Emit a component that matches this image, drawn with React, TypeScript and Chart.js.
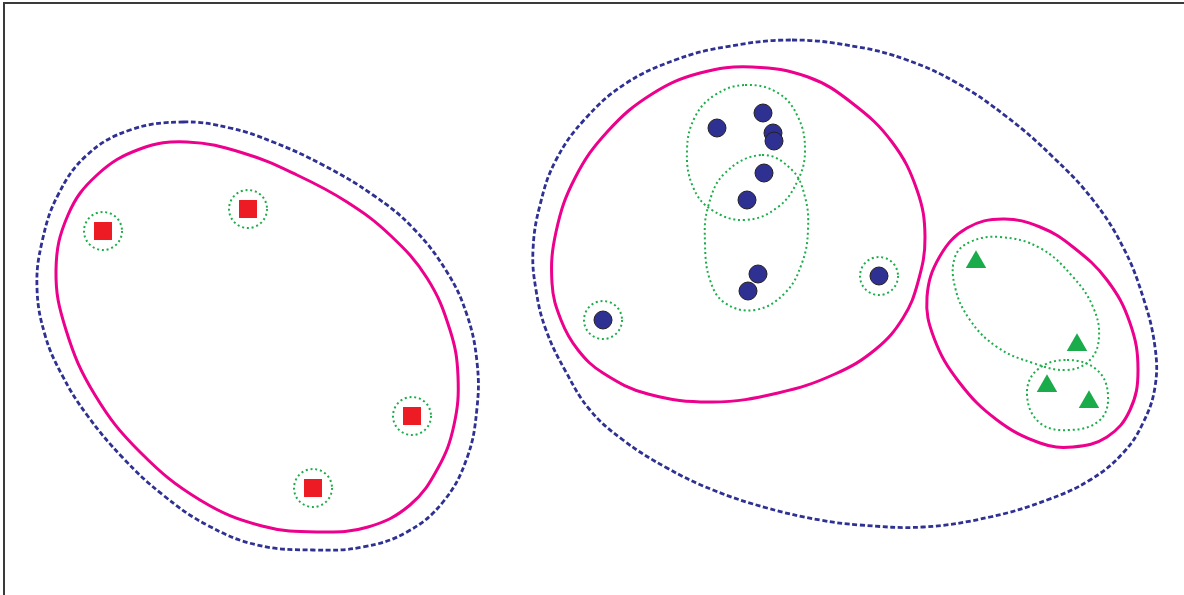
import React, { useEffect, useRef } from 'react'
import { Chart, registerables, type ChartConfiguration } from 'chart.js'

Chart.register(...registerables)

type P = { x: number; y: number }
const pts = (a: number[][]): P[] => a.map(([x, y]) => ({ x, y }))

// members of each cluster (x across, y down)
const redSquares = pts([[103, 231], [248, 209], [412, 416], [313, 488]])
const blueDots = pts([
  [717, 128], [763, 113], [773, 133], [774, 141], [764, 173],
  [747, 200], [758, 274], [748, 291], [879, 276], [603, 320],
])
const greenTriangles = pts([[976, 262], [1077, 345], [1047, 386], [1089, 402]])

// singletons that get their own dotted ring
const singletons = pts([[103, 231], [248, 209], [412, 416], [313, 488], [603, 320], [879, 276]])

// outer dashed hulls (closed, first point not repeated)
const leftHull = pts([
  [183, 122], [230, 128], [273, 142], [323, 165], [373, 195], [413, 228], [447, 272],
  [467, 315], [477, 362], [477, 408], [467, 458], [443, 502], [407, 532], [363, 547],
  [313, 550], [257, 545], [207, 525], [163, 495], [123, 458], [87, 415], [62, 375],
  [45, 335], [37, 288], [42, 242], [58, 195], [87, 155], [130, 130],
])
const rightHull = pts([
  [792, 40], [858, 47], [907, 60], [957, 83], [1007, 117], [1053, 157], [1093, 200],
  [1123, 247], [1143, 297], [1155, 347], [1155, 387], [1143, 423], [1123, 453],
  [1090, 480], [1047, 500], [990, 517], [923, 527], [860, 525], [820, 520], [767, 508],
  [713, 490], [667, 468], [623, 440], [590, 410], [566, 372], [546, 330], [536, 290],
  [533, 250], [540, 205], [556, 160], [585, 119], [625, 84], [675, 60], [725, 47],
])

// solid cluster outlines
const leftCluster = pts([
  [187, 142], [243, 153], [297, 175], [347, 202], [390, 235], [427, 278], [450, 330],
  [458, 376], [454, 425], [438, 468], [410, 505], [368, 527], [320, 532], [262, 526],
  [200, 500], [140, 452], [95, 395], [66, 330], [56, 270], [68, 215], [97, 175],
  [140, 149],
])
const midCluster = pts([
  [752, 67], [808, 77], [852, 103], [892, 142], [917, 190], [925, 237], [918, 282],
  [903, 318], [876, 349], [835, 374], [778, 393], [712, 402], [648, 394], [603, 373],
  [578, 350], [561, 320], [552, 283], [556, 232], [575, 178], [608, 131], [652, 94],
  [700, 73],
])
const rightCluster = pts([
  [1003, 219], [1040, 227], [1073, 247], [1107, 280], [1130, 323], [1138, 370],
  [1130, 410], [1107, 437], [1073, 447], [1040, 443], [997, 420], [959, 382],
  [934, 338], [927, 297], [940, 256], [967, 228],
])

// dotted sub-groups
const subUpper = pts([
  [745, 85], [778, 93], [798, 117], [805, 150], [798, 180], [778, 207], [745, 220],
  [712, 210], [693, 187], [687, 150], [695, 117], [715, 95],
])
const subLower = pts([
  [762, 155], [792, 170], [805, 197], [808, 230], [802, 263], [785, 293], [755, 310],
  [725, 303], [710, 280], [705, 243], [708, 207], [725, 173],
])
const subTilted = pts([
  [1000, 237], [1040, 248], [1073, 277], [1093, 307], [1099, 337], [1090, 360],
  [1067, 370], [1033, 363], [997, 347], [970, 320], [955, 287], [955, 257], [970, 242],
])
const subSmall = pts([
  [1067, 360], [1097, 370], [1108, 395], [1100, 420], [1070, 430], [1040, 423],
  [1027, 395], [1037, 370],
])

const NAVY = '#2e3192'
const MAGENTA = '#ec008c'
const GREEN = '#1dad4a'

// point rings need a dash too, points don't support one natively
const ringDash = {
  id: 'ringDash',
  beforeDatasetDraw(chart: Chart, args: { index: number }) {
    if ((chart.data.datasets[args.index] as any).ring) {
      chart.ctx.save()
      chart.ctx.setLineDash([2, 2.8])
    }
  },
  afterDatasetDraw(chart: Chart, args: { index: number }) {
    if ((chart.data.datasets[args.index] as any).ring) chart.ctx.restore()
  },
}

// close outline paths like the radar controller does, so the spline wraps smoothly
const closeLoops = {
  id: 'closeLoops',
  afterDatasetUpdate(chart: Chart, args: { index: number; meta: any }) {
    const line = args.meta.dataset
    if ((chart.data.datasets[args.index] as any).closed && line) {
      line._loop = true
      line._fullLoop = true
    }
  },
}

const outline = (data: P[], color: string, width: number, dash: number[]) => ({
  data,
  closed: true,
  showLine: true,
  borderColor: color,
  borderWidth: width,
  borderDash: dash,
  pointRadius: 0,
  tension: 0.4,
  fill: false,
})

export default function App() {
  const canvasRef = useRef<HTMLCanvasElement>(null)
  const chartRef = useRef<Chart | null>(null)

  useEffect(() => {
    if (!canvasRef.current) return
    chartRef.current?.destroy()

    const cfg: ChartConfiguration<'scatter'> = {
      type: 'scatter',
      data: {
        datasets: [
          {
            data: redSquares, pointStyle: 'rect', pointRadius: 12.7,
            backgroundColor: '#ed1c24', borderColor: '#ed1c24', borderWidth: 0,
          },
          {
            data: blueDots, pointStyle: 'circle', pointRadius: 9,
            backgroundColor: NAVY, borderColor: '#231f20', borderWidth: 1,
          },
          {
            data: greenTriangles, pointStyle: 'triangle', pointRadius: 11.8,
            backgroundColor: '#1aab4b', borderColor: '#1aab4b', borderWidth: 0,
          },
          {
            data: singletons, pointStyle: 'circle', pointRadius: 19,
            backgroundColor: 'rgba(0,0,0,0)', borderColor: GREEN, borderWidth: 2,
            ring: true,
          } as any,
          outline(subUpper, GREEN, 2, [2, 2.8]),
          outline(subLower, GREEN, 2, [2, 2.8]),
          outline(subTilted, GREEN, 2, [2, 2.8]),
          outline(subSmall, GREEN, 2, [2, 2.8]),
          outline(leftCluster, MAGENTA, 3, []),
          outline(midCluster, MAGENTA, 3, []),
          outline(rightCluster, MAGENTA, 3, []),
          outline(leftHull, NAVY, 2.8, [5, 2.6]),
          outline(rightHull, NAVY, 2.8, [5, 2.6]),
        ],
      },
      options: {
        responsive: true,
        maintainAspectRatio: false,
        animation: false,
        events: [],
        layout: { padding: 0, autoPadding: false },
        plugins: { legend: { display: false }, tooltip: { enabled: false } },
        scales: {
          x: { type: 'linear', display: false, min: 0, max: 1184 },
          y: { type: 'linear', display: false, min: 0, max: 595, reverse: true },
        },
      },
      plugins: [ringDash, closeLoops],
    }
    chartRef.current = new Chart(canvasRef.current, cfg)
    return () => { chartRef.current?.destroy() }
  }, [])

  return (
    <div style={{ position: 'fixed', left: 0, top: 0, width: 1184, height: 595, background: '#fff' }}>
      <div
        style={{
          position: 'absolute', left: 3, top: 2, right: 0, bottom: 0,
          borderLeft: '2px solid #3a3a3a', borderTop: '2px solid #3a3a3a',
        }}
      />
      <canvas ref={canvasRef} style={{ position: 'absolute', left: 0, top: 0, width: 1184, height: 595 }} />
    </div>
  )
}
